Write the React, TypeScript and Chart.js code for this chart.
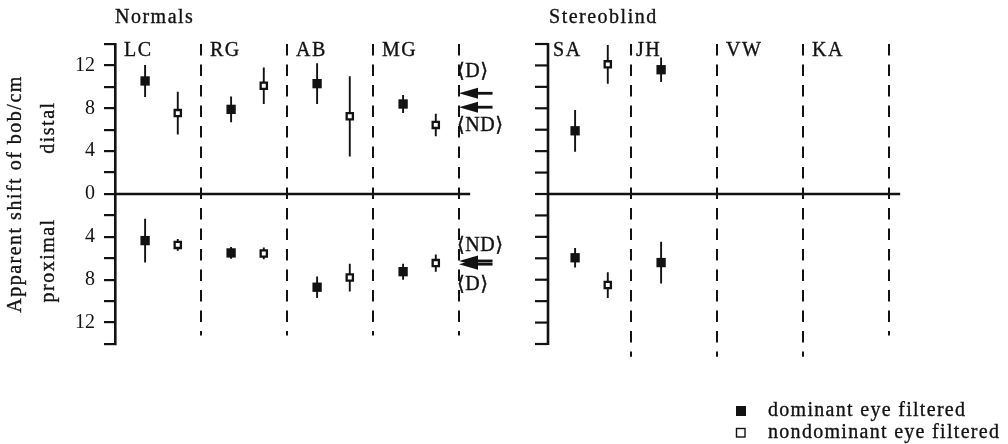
import React, { useEffect, useRef } from 'react';
import { Chart, registerables } from 'chart.js';

Chart.register(...registerables);

// ---------- data ----------
const subjects = ['LC', 'RG', 'AB', 'MG', 'SA', 'JH', 'VW', 'KA'];
const subjectColumns = [0, 1, 2, 3, 5, 6, 7, 8];

// distal shifts (plotted upward), proximal shifts (plotted downward), in cm
const domDistal = [10.55, 7.9, 10.3, 8.4, 5.9, 11.6, null, null];
const domDistalErr = [1.5, 1.2, 1.9, 0.85, 1.95, 1.15, null, null];
const nonDistal = [7.55, 10.1, 7.25, 6.45, 12.1, null, null, null];
const nonDistalErr = [2.0, 1.7, 3.75, 1.05, 1.8, null, null, null];
const domProximal = [4.35, 5.5, 8.7, 7.25, 5.95, 6.4, null, null];
const domProximalErr = [2.05, 0.55, 1.0, 0.75, 0.9, 1.95, null, null];
const nonProximal = [4.75, 5.55, 7.8, 6.45, 8.5, null, null, null];
const nonProximalErr = [0.55, 0.55, 1.3, 0.8, 1.2, null, null, null];

// group means (arrows)
const meanDistalD = 9.4;
const meanDistalND = 8.1;
const meanProximalND = 6.25;
const meanProximalD = 6.55;

const yTickValues = [-14, -12, -10, -8, -6, -4, -2, 0, 2, 4, 6, 8, 10, 12, 14];
const yLabelValues = [0, 4, 8, 12];

const groupTitles = ['Normals', 'Stereoblind'];
const legendLabels = ['dominant eye filtered', 'nondominant eye filtered'];
const yTitle = 'Apparent shift of bob/cm';
const distalLabel = 'distal';
const proximalLabel = 'proximal';

// ---------- style constants ----------
const INK = '#121212';
const FONT = '"Liberation Serif", "DejaVu Serif", serif';
const DOM_OFFSET = 0.35;
const NON_OFFSET = 0.73;
const RIGHT_AXIS_X = 5.035;
const dividerColumns = [1, 2, 3, 4, 6, 7, 8, 9];
const dividerBottoms = [-13.2, -13.2, -13.2, -13.2, -15.2, -15.2, -15.2, -13.2];

type Pt = { x: number; y: number | null };

function points(vals: (number | null)[], sign: number, offset: number): Pt[] {
  const out: Pt[] = [];
  vals.forEach((v, i) => {
    if (v != null) out.push({ x: subjectColumns[i] + offset, y: sign * v });
  });
  return out;
}

function bars(vals: (number | null)[], errs: (number | null)[], sign: number, offset: number): Pt[] {
  const out: Pt[] = [];
  vals.forEach((v, i) => {
    const e = errs[i];
    if (v != null && e != null) {
      const x = subjectColumns[i] + offset;
      out.push({ x, y: sign * (v - e) });
      out.push({ x, y: sign * (v + e) });
      out.push({ x, y: null });
    }
  });
  return out;
}

function text(ctx: CanvasRenderingContext2D, s: string, x: number, y: number, align: CanvasTextAlign = 'left', baseline: CanvasTextBaseline = 'alphabetic', spacing = 1.5) {
  ctx.save();
  ctx.font = `20px ${FONT}`;
  (ctx as any).letterSpacing = `${spacing}px`;
  ctx.fillStyle = INK;
  ctx.strokeStyle = INK;
  ctx.lineWidth = 0.35;
  ctx.textAlign = align;
  ctx.textBaseline = baseline;
  ctx.fillText(s, x, y);
  ctx.strokeText(s, x, y);
  ctx.restore();
}

const decorPlugin = {
  id: 'decor',
  beforeDatasetsDraw(chart: any) {
    const ctx: CanvasRenderingContext2D = chart.ctx;
    const xs = chart.scales.x;
    const ys = chart.scales.y;
    const X = (v: number) => xs.getPixelForValue(v);
    const Y = (v: number) => ys.getPixelForValue(v);
    ctx.save();
    ctx.strokeStyle = INK;
    ctx.fillStyle = INK;

    // dashed dividers
    ctx.lineWidth = 2;
    ctx.setLineDash([11.5, 9]);
    dividerColumns.forEach((c, i) => {
      ctx.beginPath();
      ctx.moveTo(X(c), Y(14));
      ctx.lineTo(X(c), Y(dividerBottoms[i]));
      ctx.stroke();
    });
    ctx.setLineDash([]);

    // zero lines
    ctx.lineWidth = 2.6;
    ctx.beginPath();
    ctx.moveTo(X(0), Y(0));
    ctx.lineTo(X(4.13), Y(0));
    ctx.stroke();
    ctx.beginPath();
    ctx.moveTo(X(RIGHT_AXIS_X), Y(0));
    ctx.lineTo(X(9.13), Y(0));
    ctx.stroke();

    // right axis
    const rx = X(RIGHT_AXIS_X);
    ctx.lineWidth = 2.6;
    ctx.beginPath();
    ctx.moveTo(rx, Y(14) - 1);
    ctx.lineTo(rx, Y(-14) + 1);
    ctx.stroke();
    ctx.lineWidth = 2.2;
    yTickValues.forEach((v) => {
      ctx.beginPath();
      ctx.moveTo(rx - 13, Y(v));
      ctx.lineTo(rx, Y(v));
      ctx.stroke();
    });

    // mean arrows
    const tip = X(4.0);
    const tail = X(4.39);
    const arrow = (y: number) => {
      ctx.lineWidth = 2.8;
      ctx.beginPath();
      ctx.moveTo(tip + 10, y);
      ctx.lineTo(tail, y);
      ctx.stroke();
      ctx.beginPath();
      ctx.moveTo(tip, y);
      ctx.lineTo(tip + 19, y - 5.5);
      ctx.lineTo(tip + 19, y + 5.5);
      ctx.closePath();
      ctx.fill();
    };
    arrow(Y(meanDistalD));
    arrow(Y(meanDistalND));
    arrow(Y(-meanProximalND));
    arrow(Y(-meanProximalD));
    ctx.restore();
  },
  afterDraw(chart: any) {
    const ctx: CanvasRenderingContext2D = chart.ctx;
    const xs = chart.scales.x;
    const ys = chart.scales.y;
    const X = (v: number) => xs.getPixelForValue(v);
    const Y = (v: number) => ys.getPixelForValue(v);

    // group titles
    text(ctx, groupTitles[0], X(0), 23);
    text(ctx, groupTitles[1], X(RIGHT_AXIS_X) + 1, 23);

    // subject labels
    subjects.forEach((s, i) => {
      const c = subjectColumns[i];
      let x = X(c) + 9;
      if (s === 'SA') x = X(RIGHT_AXIS_X) + 5;
      if (s === 'JH') x = X(c) + 5;
      text(ctx, s, x, 56);
    });

    // mean labels
    const lx = X(4.0) - 2;
    text(ctx, '⟨D⟩', lx, Y(meanDistalD) - 16, 'left', 'alphabetic', 0.5);
    text(ctx, '⟨ND⟩', lx, Y(meanDistalND) + 24, 'left', 'alphabetic', 0.5);
    text(ctx, '⟨ND⟩', lx, Y(-meanProximalND) - 10, 'left', 'alphabetic', 0.5);
    text(ctx, '⟨D⟩', lx, Y(-meanProximalD) + 26, 'left', 'alphabetic', 0.5);

    // y titles (rotated)
    const rot = (s: string, cx: number, cy: number) => {
      ctx.save();
      ctx.translate(cx, cy);
      ctx.rotate(-Math.PI / 2);
      text(ctx, s, 0, 0, 'center', 'middle');
      ctx.restore();
    };
    rot(yTitle, 16, Y(0));
    rot(distalLabel, 49, Y(6.2));
    rot(proximalLabel, 49, Y(-6.2));

    // legend
    ctx.save();
    ctx.fillStyle = INK;
    ctx.fillRect(736, 406, 10, 10);
    ctx.strokeStyle = INK;
    ctx.lineWidth = 1.4;
    ctx.fillStyle = '#fff';
    ctx.fillRect(736.5, 428.5, 8.5, 8.5);
    ctx.strokeRect(736.5, 428.5, 8.5, 8.5);
    ctx.restore();
    text(ctx, legendLabels[0], 768, 416, 'left', 'alphabetic', 1.3);
    text(ctx, legendLabels[1], 768, 438, 'left', 'alphabetic', 1.3);
  },
};

export default function App() {
  const ref = useRef<HTMLCanvasElement>(null);
  useEffect(() => {
    const canvas = ref.current;
    if (!canvas) return;
    const filled = {
      pointStyle: 'rect' as const,
      pointRadius: 6.6,
      pointHoverRadius: 6.6,
      backgroundColor: INK,
      borderColor: INK,
      borderWidth: 0,
      order: 0,
      clip: false as const,
    };
    const open = {
      pointStyle: 'rect' as const,
      pointRadius: 4.4,
      pointHoverRadius: 4.4,
      backgroundColor: '#ffffff',
      borderColor: INK,
      borderWidth: 2.3,
      order: 0,
      clip: false as const,
    };
    const errStyle = {
      type: 'line' as const,
      borderColor: INK,
      borderWidth: 1.9,
      pointRadius: 0,
      pointHoverRadius: 0,
      spanGaps: false,
      fill: false,
      order: 1,
      clip: false as const,
    };
    const chart = new Chart(canvas, {
      type: 'scatter',
      data: {
        datasets: [
          { label: legendLabels[0], data: [...points(domDistal, 1, DOM_OFFSET), ...points(domProximal, -1, DOM_OFFSET)], ...filled },
          { label: legendLabels[1], data: [...points(nonDistal, 1, NON_OFFSET), ...points(nonProximal, -1, NON_OFFSET)], ...open },
          { label: 'dom err', data: [...bars(domDistal, domDistalErr, 1, DOM_OFFSET), ...bars(domProximal, domProximalErr, -1, DOM_OFFSET)], ...errStyle },
          { label: 'non err', data: [...bars(nonDistal, nonDistalErr, 1, NON_OFFSET), ...bars(nonProximal, nonProximalErr, -1, NON_OFFSET)], ...errStyle },
        ] as any,
      },
      options: {
        animation: false,
        responsive: true,
        maintainAspectRatio: false,
        events: [],
        layout: { padding: { left: 0, top: 44, right: 33, bottom: 100 } },
        plugins: { legend: { display: false }, tooltip: { enabled: false } },
        scales: {
          x: { type: 'linear', min: 0, max: 10, display: false },
          y: {
            type: 'linear',
            min: -14,
            max: 14,
            afterFit: (scale: any) => {
              scale.width = 115;
            },
            afterBuildTicks: (scale: any) => {
              scale.ticks = yTickValues.map((v) => ({ value: v }));
            },
            ticks: {
              autoSkip: false,
              padding: 9,
              color: INK,
              font: { family: FONT, size: 20 },
              callback: (v: any) => (yLabelValues.includes(Math.abs(Number(v))) ? String(Math.abs(Number(v))) : ''),
            },
            grid: {
              display: true,
              drawOnChartArea: false,
              drawTicks: true,
              tickLength: 11,
              color: INK,
              lineWidth: 2.2,
            },
            border: { display: true, color: INK, width: 2.6 },
          },
        },
      },
      plugins: [decorPlugin],
    });
    return () => chart.destroy();
  }, []);
  return (
    <div style={{ position: 'absolute', left: 0, top: 0, width: 1008, height: 444, background: '#ffffff' }}>
      <canvas ref={ref} />
    </div>
  );
}
